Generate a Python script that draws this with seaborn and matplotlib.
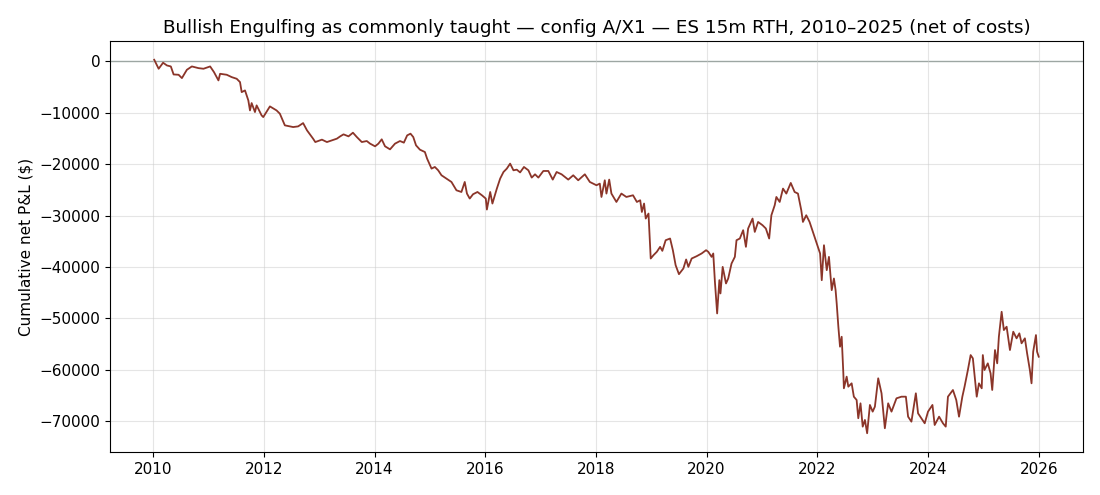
import matplotlib
matplotlib.use("Agg")
import matplotlib.pyplot as plt
import seaborn as sns
import pandas as pd

# cumulative net P&L, decimal year -> dollars
years = [
    2010.02, 2010.10, 2010.18, 2010.25, 2010.32, 2010.37, 2010.46, 2010.52, 2010.61, 2010.70,
    2010.82, 2010.91, 2011.03, 2011.10, 2011.18, 2011.21, 2011.33, 2011.42, 2011.51, 2011.57,
    2011.60, 2011.66, 2011.72, 2011.75, 2011.78, 2011.84, 2011.87, 2011.96, 2011.99, 2012.11,
    2012.23, 2012.29, 2012.38, 2012.53, 2012.62, 2012.71, 2012.78, 2012.89, 2012.93, 2013.05,
    2013.14, 2013.23, 2013.32, 2013.38, 2013.44, 2013.53, 2013.61, 2013.68, 2013.77, 2013.86,
    2013.92, 2014.01, 2014.07, 2014.13, 2014.19, 2014.28, 2014.37, 2014.46, 2014.53, 2014.59,
    2014.65, 2014.70, 2014.75, 2014.82, 2014.91, 2014.95, 2015.03, 2015.09, 2015.15, 2015.21,
    2015.30, 2015.39, 2015.48, 2015.57, 2015.63, 2015.67, 2015.72, 2015.78, 2015.86, 2015.94,
    2016.01, 2016.03, 2016.09, 2016.13, 2016.21, 2016.27, 2016.33, 2016.39, 2016.45, 2016.51,
    2016.57, 2016.63, 2016.70, 2016.78, 2016.84, 2016.90, 2016.96, 2017.05, 2017.14, 2017.22,
    2017.29, 2017.38, 2017.50, 2017.59, 2017.68, 2017.80, 2017.89, 2018.01, 2018.07, 2018.10,
    2018.16, 2018.19, 2018.24, 2018.28, 2018.37, 2018.46, 2018.55, 2018.67, 2018.74, 2018.80,
    2018.83, 2018.87, 2018.90, 2018.95, 2018.99, 2019.04, 2019.10, 2019.16, 2019.20, 2019.26,
    2019.34, 2019.39, 2019.44, 2019.50, 2019.58, 2019.63, 2019.67, 2019.73, 2019.82, 2019.91,
    2019.99, 2020.03, 2020.09, 2020.12, 2020.15, 2020.19, 2020.23, 2020.25, 2020.29, 2020.35,
    2020.39, 2020.45, 2020.51, 2020.54, 2020.60, 2020.66, 2020.71, 2020.75, 2020.83, 2020.87,
    2020.93, 2021.01, 2021.07, 2021.13, 2021.17, 2021.23, 2021.26, 2021.32, 2021.38, 2021.44,
    2021.52, 2021.59, 2021.65, 2021.71, 2021.74, 2021.80, 2021.86, 2021.92, 2021.99, 2022.05,
    2022.08, 2022.12, 2022.17, 2022.21, 2022.26, 2022.30, 2022.33, 2022.35, 2022.38, 2022.41,
    2022.44, 2022.47, 2022.48, 2022.53, 2022.56, 2022.62, 2022.66, 2022.71, 2022.74, 2022.78,
    2022.82, 2022.86, 2022.90, 2022.95, 2023.00, 2023.04, 2023.10, 2023.16, 2023.22, 2023.28,
    2023.34, 2023.43, 2023.52, 2023.60, 2023.64, 2023.70, 2023.78, 2023.82, 2023.88, 2023.94,
    2024.00, 2024.08, 2024.12, 2024.20, 2024.27, 2024.32, 2024.36, 2024.45, 2024.51, 2024.56,
    2024.62, 2024.66, 2024.72, 2024.77, 2024.81, 2024.88, 2024.92, 2024.97, 2024.99, 2025.02,
    2025.08, 2025.13, 2025.16, 2025.21, 2025.25, 2025.28, 2025.33, 2025.37, 2025.42, 2025.48,
    2025.54, 2025.60, 2025.65, 2025.69, 2025.75, 2025.79, 2025.84, 2025.87, 2025.90, 2025.95,
    2025.97, 2026.00,
]
pnl = [
    330, -1420, -250, -780, -970, -2530, -2590, -3240, -1620, -970,
    -1300, -1420, -970, -2080, -3690, -2400, -2590, -3050, -3370, -4020,
    -5970, -5640, -7580, -9530, -8100, -9850, -8550, -10500, -10830, -8750,
    -9530, -10170, -12440, -12770, -12640, -12000, -13410, -15030, -15690, -15220,
    -15690, -15360, -15030, -14580, -14190, -14580, -13870, -14710, -15690, -15490,
    -16000, -16520, -16000, -15160, -16520, -17110, -16000, -15490, -15810, -14390,
    -14060, -14710, -16330, -17170, -17630, -18920, -20860, -20540, -21190, -22160,
    -22800, -23460, -25080, -25410, -23460, -25720, -26690, -25850, -25410, -26050,
    -26690, -28830, -25410, -27660, -24750, -22800, -21520, -20860, -19890, -21190,
    -21060, -21600, -20540, -21190, -22610, -21970, -22610, -21320, -21320, -23000,
    -21520, -21970, -23000, -22160, -23130, -21970, -23460, -24100, -23780, -26380,
    -23130, -25720, -23000, -25720, -27350, -25720, -26380, -26050, -27350, -27020,
    -29300, -27660, -30580, -29610, -38360, -37710, -37060, -36090, -36870, -34800,
    -34470, -36740, -39660, -41410, -40300, -38550, -39990, -38360, -37910, -37380,
    -36740, -37060, -38040, -37380, -42900, -49050, -42580, -45160, -39990, -43220,
    -42250, -39340, -38040, -34800, -34470, -32850, -36090, -32520, -30580, -33180,
    -31240, -31880, -32520, -34470, -29940, -27990, -26380, -27350, -24750, -25720,
    -23650, -25410, -25720, -28960, -31240, -29940, -31240, -33180, -35440, -37380,
    -42580, -35770, -40630, -38040, -44520, -42250, -44520, -47110, -51640, -55530,
    -53590, -60710, -63630, -61360, -63310, -62660, -65260, -65900, -69460, -66550,
    -71090, -69790, -72380, -66870, -68170, -67200, -61680, -64600, -71410, -66550,
    -68170, -65580, -65260, -65260, -69150, -70120, -64600, -68500, -69460, -70440,
    -68170, -66870, -70770, -69150, -70440, -71090, -65260, -63960, -65900, -69150,
    -65260, -63310, -60070, -57160, -57800, -65260, -62660, -63630, -57160, -60070,
    -58770, -60710, -63960, -56180, -58770, -53590, -48730, -52290, -51640, -56180,
    -52610, -53900, -52930, -54870, -53900, -56820, -60070, -62660, -56500, -53260,
    -56500, -57480,
]

title = "Bullish Engulfing as commonly taught \u2014 config A/X1 \u2014 ES 15m RTH, 2010\u20132025 (net of costs)"
ylabel = "Cumulative net P&L ($)"

df = pd.DataFrame({"year": years, "pnl": pnl})

fig, ax = plt.subplots(figsize=(11, 4.95), dpi=100)
fig.subplots_adjust(left=0.1, right=0.9845, top=0.917, bottom=0.087)

ax.axhline(0, color="#6e807a", linewidth=0.9, zorder=1)
sns.lineplot(data=df, x="year", y="pnl", ax=ax, color="#8b3529", linewidth=1.3,
             estimator=None, sort=False, zorder=2)

ax.set_title(title, fontsize=13.25)
ax.set_xlabel("")
ax.set_ylabel(ylabel, fontsize=11)
ax.grid(True, color="#cccccc", alpha=0.5, linewidth=0.8)
ax.set_xticks(range(2010, 2027, 2))
ax.tick_params(labelsize=11)

fig.savefig("out.png", dpi=100)
